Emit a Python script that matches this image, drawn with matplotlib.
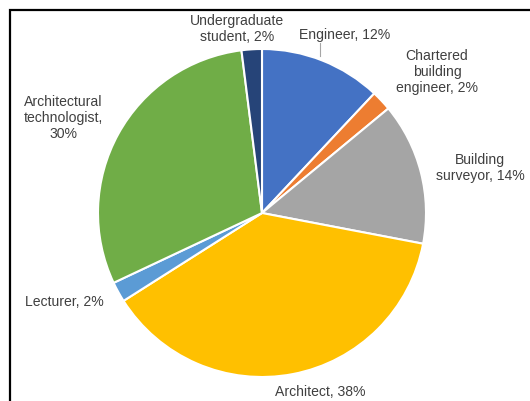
import matplotlib
matplotlib.use("Agg")
import matplotlib.pyplot as plt
from matplotlib.patches import Rectangle

categories = ["Engineer", "Chartered\nbuilding\nengineer", "Building\nsurveyor", "Architect",
              "Lecturer", "Architectural\ntechnologist,\n", "Undergraduate\nstudent"]
values = [12, 2, 14, 38, 2, 30, 2]
colors = ["#4472C4", "#ED7D31", "#A5A5A5", "#FFC000", "#5B9BD5", "#70AD47", "#264478"]

W, H = 530, 401
fig = plt.figure(figsize=(W / 100, H / 100), dpi=100)
ax = fig.add_axes([0, 0, 1, 1])

cx, cy, r = 262, 213, 164
# y axis inverted, so counterclock=True in data means clockwise on screen
ax.pie(values, colors=colors, startangle=-90, counterclock=True, center=(cx, cy), radius=r,
       wedgeprops=dict(edgecolor="white", linewidth=1.5), frame=True)
ax.set_xlim(0, W)
ax.set_ylim(H, 0)
ax.set_aspect("equal")
ax.axis("off")

label_pos = [(345, 35), (437, 72), (480, 168), (320, 392), (64, 302), (63, 118), (237, 29)]
for cat, v, (x, y) in zip(categories, values, label_pos):
    if cat.endswith("\n"):
        txt = f"{cat}{v}%"
    else:
        txt = f"{cat}, {v}%"
    ax.text(x, y, txt, ha="center", va="center", fontsize=10.1, color="#404040",
            family="Liberation Sans", linespacing=1.2)

# leader line for Engineer label
ax.plot([320, 320], [43, 56], color="#A6A6A6", lw=0.8)

fig.patches.append(Rectangle((9.5 / W, -0.1), 1.2, 1 - 9.5 / H + 0.1, transform=fig.transFigure,
                             fill=False, edgecolor="black", lw=1.6))
fig.savefig("out.png", dpi=100)
